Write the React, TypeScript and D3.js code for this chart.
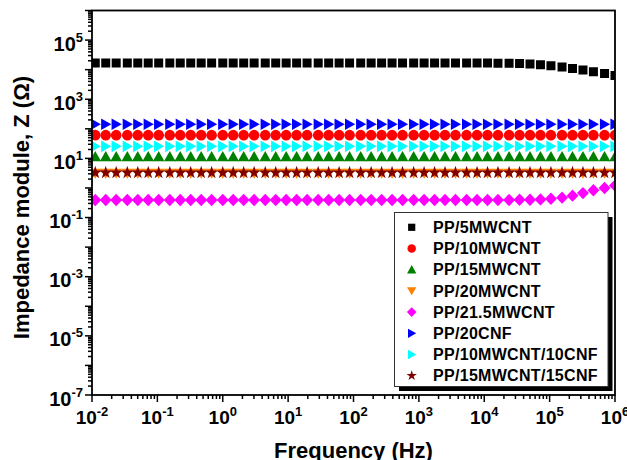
import React from "react";
import * as d3 from "d3";

// log10 of measured frequency (Hz)
const logFreq = [
  -1.95, -1.79, -1.63, -1.46, -1.3, -1.14, -0.98, -0.81, -0.65, -0.49,
  -0.33, -0.17, 0.0, 0.16, 0.32, 0.48, 0.65, 0.81, 0.97, 1.13,
  1.29, 1.46, 1.62, 1.78, 1.94, 2.11, 2.27, 2.43, 2.59, 2.75,
  2.92, 3.08, 3.24, 3.4, 3.56, 3.73, 3.89, 4.05, 4.21, 4.38,
  4.54, 4.7, 4.86, 5.02, 5.19, 5.35, 5.51, 5.67, 5.84, 6.0,
];

const pp5 = [
  16800, 16800, 16800, 16800, 16800, 16800, 16800, 16800, 16800, 16800,
  16800, 16800, 16800, 16800, 16800, 16800, 16800, 16800, 16800, 16800,
  16800, 16800, 16800, 16800, 16800, 16800, 16800, 16800, 16800, 16800,
  16800, 16800, 16800, 16800, 16800, 16800, 16800, 16700, 16600, 16400,
  16100, 15500, 14600, 13600, 12400, 11000, 9700, 8500, 7400, 6400,
];
const pp10 = [
  61, 61, 61, 61, 61, 61, 61, 61, 61, 61,
  61, 61, 61, 61, 61, 61, 61, 61, 61, 61,
  61, 61, 61, 61, 61, 61, 61, 61, 61, 61,
  61, 61, 61, 61, 61, 61, 61, 61, 61, 61,
  61, 61, 61, 61, 61, 61, 61, 61, 61, 61,
];
const pp15 = [
  11.4, 11.4, 11.4, 11.4, 11.4, 11.4, 11.4, 11.4, 11.4, 11.4,
  11.4, 11.4, 11.4, 11.4, 11.4, 11.4, 11.4, 11.4, 11.4, 11.4,
  11.4, 11.4, 11.4, 11.4, 11.4, 11.4, 11.4, 11.4, 11.4, 11.4,
  11.4, 11.4, 11.4, 11.4, 11.4, 11.4, 11.4, 11.4, 11.4, 11.4,
  11.4, 11.4, 11.4, 11.4, 11.4, 11.4, 11.4, 11.4, 11.4, 11.4,
];
const pp20 = [
  3.1, 3.1, 3.1, 3.1, 3.1, 3.1, 3.1, 3.1, 3.1, 3.1,
  3.1, 3.1, 3.1, 3.1, 3.1, 3.1, 3.1, 3.1, 3.1, 3.1,
  3.1, 3.1, 3.1, 3.1, 3.1, 3.1, 3.1, 3.1, 3.1, 3.1,
  3.1, 3.1, 3.1, 3.1, 3.1, 3.1, 3.1, 3.1, 3.1, 3.1,
  3.1, 3.1, 3.1, 3.1, 3.1, 3.1, 3.1, 3.1, 3.1, 3.1,
];
const pp215 = [
  0.39, 0.39, 0.39, 0.39, 0.39, 0.39, 0.39, 0.39, 0.39, 0.39,
  0.39, 0.39, 0.39, 0.39, 0.39, 0.39, 0.39, 0.39, 0.39, 0.39,
  0.39, 0.39, 0.39, 0.39, 0.39, 0.39, 0.39, 0.39, 0.39, 0.39,
  0.39, 0.39, 0.39, 0.39, 0.39, 0.39, 0.39, 0.39, 0.39, 0.39,
  0.4, 0.4, 0.41, 0.43, 0.47, 0.55, 0.67, 0.84, 1.0, 1.2,
];
const pp20cnf = [
  143, 143, 143, 143, 143, 143, 143, 143, 143, 143,
  143, 143, 143, 143, 143, 143, 143, 143, 143, 143,
  143, 143, 143, 143, 143, 143, 143, 143, 143, 143,
  143, 143, 143, 143, 143, 143, 143, 143, 143, 143,
  143, 143, 143, 143, 143, 143, 143, 143, 143, 143,
];
const pp10_10 = [
  25.5, 25.5, 25.5, 25.5, 25.5, 25.5, 25.5, 25.5, 25.5, 25.5,
  25.5, 25.5, 25.5, 25.5, 25.5, 25.5, 25.5, 25.5, 25.5, 25.5,
  25.5, 25.5, 25.5, 25.5, 25.5, 25.5, 25.5, 25.5, 25.5, 25.5,
  25.5, 25.5, 25.5, 25.5, 25.5, 25.5, 25.5, 25.5, 25.5, 25.5,
  25.5, 25.5, 25.5, 25.5, 25.5, 25.5, 25.5, 25.5, 25.5, 25.5,
];
const pp15_15 = [
  3.3, 3.3, 3.3, 3.3, 3.3, 3.3, 3.3, 3.3, 3.3, 3.3,
  3.3, 3.3, 3.3, 3.3, 3.3, 3.3, 3.3, 3.3, 3.3, 3.3,
  3.3, 3.3, 3.3, 3.3, 3.3, 3.3, 3.3, 3.3, 3.3, 3.3,
  3.3, 3.3, 3.3, 3.3, 3.3, 3.3, 3.3, 3.3, 3.3, 3.3,
  3.3, 3.3, 3.3, 3.3, 3.3, 3.3, 3.3, 3.3, 3.3, 3.3,
];

const seriesNames = [
  "PP/5MWCNT", "PP/10MWCNT", "PP/15MWCNT", "PP/20MWCNT",
  "PP/21.5MWCNT", "PP/20CNF", "PP/10MWCNT/10CNF", "PP/15MWCNT/15CNF",
];
const seriesValues = [pp5, pp10, pp15, pp20, pp215, pp20cnf, pp10_10, pp15_15];
const seriesColors = ["#000000", "#ff0000", "#008000", "#ff8000", "#ff00ff", "#0000ff", "#00ffff", "#800000"];
const seriesShapes = ["square", "circle", "up", "down", "diamond", "right", "right", "star"];

const xTickExps = [-2, -1, 0, 1, 2, 3, 4, 5, 6];
const yTickExps = [-7, -6, -5, -4, -3, -2, -1, 0, 1, 2, 3, 4, 5, 6];
const yLabelExps = [-7, -5, -3, -1, 1, 3, 5];

const W = 627, H = 460;
const L = 92, R = 615, T = 10.5, B = 395;
const FONT = "'Liberation Sans', Arial, Helvetica, sans-serif";

function shapePath(shape: string, s: number): string {
  const k = s;
  switch (shape) {
    case "square": return `M${-4.5 * k},${-4.5 * k}h${9 * k}v${9 * k}h${-9 * k}Z`;
    case "circle": return d3.symbol(d3.symbolCircle, Math.PI * (5.3 * k) * (5.3 * k))() as string;
    case "up": return `M0,${-5.8 * k}L${5.8 * k},${4.6 * k}L${-5.8 * k},${4.6 * k}Z`;
    case "down": return `M0,${5.4 * k}L${5.8 * k},${-4.6 * k}L${-5.8 * k},${-4.6 * k}Z`;
    case "right": return `M${5.6 * k},0L${-4.6 * k},${5.8 * k}L${-4.6 * k},${-5.8 * k}Z`;
    case "diamond": return `M0,${-6.2 * k}L${6 * k},0L0,${6.2 * k}L${-6 * k},0Z`;
    case "star": return d3.symbol(d3.symbolStar, 52 * k * k)() as string;
  }
  return "";
}

export default function App() {
  const x = d3.scaleLog().domain([1e-2, 1e6]).range([L, R]);
  const y = d3.scaleLog().domain([1e-7, 1e6]).range([B, T]);

  const xMinor: number[] = [];
  for (let e = -2; e < 6; e++) for (let m = 2; m <= 9; m++) xMinor.push(m * Math.pow(10, e));
  const yMinor: number[] = [];
  for (let e = -7; e < 6; e++) for (let m = 2; m <= 9; m++) yMinor.push(m * Math.pow(10, e));

  const legX = 394.5, legY = 212.5, legW = 213.5, legH = 174;

  return (
    <svg width={W} height={H} style={{ position: "absolute", left: 0, top: 0, background: "#fff" }} fontFamily={FONT}>
      <defs>
        <clipPath id="plotclip">
          <rect x={L} y={T} width={R - L} height={B - T} />
        </clipPath>
      </defs>
      <rect x={0} y={0} width={W} height={H} fill="#fff" />

      {/* data */}
      <g clipPath="url(#plotclip)">
        {seriesValues.map((vals, si) => (
          <g key={si} fill={seriesColors[si]}>
            {vals.map((v, i) => (
              <path key={i} d={shapePath(seriesShapes[si], 1)}
                transform={`translate(${x(Math.pow(10, logFreq[i]))},${y(v)})`} />
            ))}
          </g>
        ))}
      </g>

      {/* frame */}
      <rect x={L} y={T} width={R - L} height={B - T} fill="none" stroke="#000" strokeWidth={1.8} />

      {/* x ticks */}
      <g stroke="#000" strokeWidth={1.5}>
        {xTickExps.map((e) => (
          <line key={e} x1={x(Math.pow(10, e))} x2={x(Math.pow(10, e))} y1={B} y2={B + 7} />
        ))}
        {xMinor.map((v, i) => (
          <line key={i} x1={x(v)} x2={x(v)} y1={B} y2={B + 4} />
        ))}
        {yTickExps.map((e) => (
          <line key={e} y1={y(Math.pow(10, e))} y2={y(Math.pow(10, e))} x1={L} x2={L - 7} />
        ))}
        {yMinor.map((v, i) => (
          <line key={i} y1={y(v)} y2={y(v)} x1={L} x2={L - 4} />
        ))}
      </g>

      {/* x labels */}
      <g fontWeight="bold" fontSize={19} fill="#000">
        {xTickExps.map((e) => (
          <text key={e} x={x(Math.pow(10, e))} y={423.5} textAnchor="middle">
            10<tspan fontSize={13} dy={-8}>{e < 0 ? `-${-e}` : `${e}`}</tspan>
          </text>
        ))}
      </g>

      {/* y labels */}
      <g fontWeight="bold" fontSize={20} fill="#000">
        {yLabelExps.map((e) => (
          <text key={e} x={83} y={y(Math.pow(10, e)) + 10.5} textAnchor="end">
            10<tspan fontSize={13} dy={-9}>{e < 0 ? `-${-e}` : `${e}`}</tspan>
          </text>
        ))}
      </g>

      {/* axis titles */}
      <text x={353.5} y={458} textAnchor="middle" fontWeight="bold" fontSize={22}>Frequency (Hz)</text>
      <text transform="translate(29,207.5) rotate(-90)" textAnchor="middle" fontWeight="bold" fontSize={22}>
        Impedance module, Z (Ω)
      </text>

      {/* legend */}
      <rect x={legX + 4.5} y={legY + 4.5} width={legW} height={legH} fill="#000" />
      <rect x={legX} y={legY} width={legW} height={legH} fill="#fff" stroke="#333" strokeWidth={1} />
      {seriesNames.map((name, i) => {
        const cy = 227.3 + i * 21.2;
        return (
          <g key={name}>
            <path d={shapePath(seriesShapes[i], 0.8)} fill={seriesColors[i]} transform={`translate(411.7,${cy})`} />
            <text x={433} y={cy + 5.7} fontWeight="bold" fontSize={16} letterSpacing={0.3}>{name}</text>
          </g>
        );
      })}
    </svg>
  );
}
